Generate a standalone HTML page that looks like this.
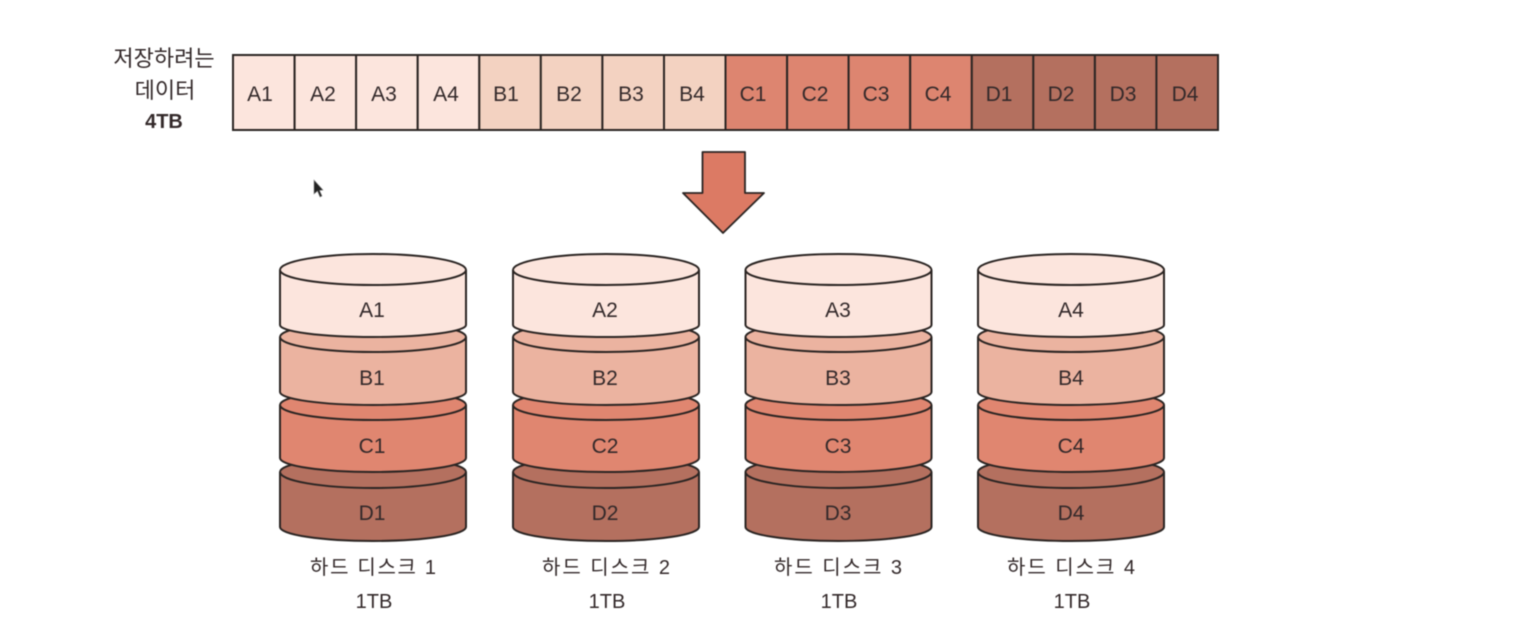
<!DOCTYPE html>
<html lang="ko">
<head>
<meta charset="utf-8">
<style>
html,body{margin:0;padding:0;background:#fff;}
body{width:1514px;height:642px;overflow:hidden;}
svg{display:block;filter:blur(0.4px);}
text{font-family:"Liberation Sans","Noto Sans CJK KR",sans-serif;fill:#33292a;text-anchor:middle;}
.c{font-size:21px;}
.k{font-size:20px;}
.h{font-size:22px;}
.cell{stroke:#2b2523;stroke-width:2;}
.d{stroke:#2b2523;stroke-width:2;stroke-linejoin:round;}
</style>
</head>
<body>
<svg width="1514" height="642" viewBox="0 0 1514 642" xmlns="http://www.w3.org/2000/svg">
<defs>
<g id="disk">
  <path class="d" fill="#b4705f" d="M280 472V527A93 14 0 0 0 466 527V472A93 15 0 0 0 280 472Z"/>
  <path class="d" fill="none" d="M280 472A93 16 0 0 0 466 472"/>
  <path class="d" fill="#e08670" d="M280 405V458A93 14 0 0 0 466 458V405A93 15 0 0 0 280 405Z"/>
  <path class="d" fill="none" d="M280 405A93 15 0 0 0 466 405"/>
  <path class="d" fill="#ebb3a0" d="M280 337V392A93 13 0 0 0 466 392V337A93 15 0 0 0 280 337Z"/>
  <path class="d" fill="none" d="M280 337A93 15 0 0 0 466 337"/>
  <path class="d" fill="#fce5dd" d="M280 270V325A93 12 0 0 0 466 325V270A93 16 0 0 0 280 270Z"/>
  <path class="d" fill="none" d="M280 270A93 15 0 0 0 466 270"/>
</g>
</defs>

<!-- data strip -->
<g class="cell">
<rect x="233" y="55" width="61.6" height="75" fill="#fce5dd"/>
<rect x="294.6" y="55" width="61.6" height="75" fill="#fce5dd"/>
<rect x="356.1" y="55" width="61.6" height="75" fill="#fce5dd"/>
<rect x="417.7" y="55" width="61.6" height="75" fill="#fce5dd"/>
<rect x="479.3" y="55" width="61.6" height="75" fill="#f3d2c1"/>
<rect x="540.8" y="55" width="61.6" height="75" fill="#f3d2c1"/>
<rect x="602.4" y="55" width="61.6" height="75" fill="#f3d2c1"/>
<rect x="664" y="55" width="61.6" height="75" fill="#f3d2c1"/>
<rect x="725.5" y="55" width="61.6" height="75" fill="#dd8570"/>
<rect x="787.1" y="55" width="61.6" height="75" fill="#dd8570"/>
<rect x="848.6" y="55" width="61.6" height="75" fill="#dd8570"/>
<rect x="910.2" y="55" width="61.6" height="75" fill="#dd8570"/>
<rect x="971.8" y="55" width="61.6" height="75" fill="#b4705f"/>
<rect x="1033.3" y="55" width="61.6" height="75" fill="#b4705f"/>
<rect x="1094.9" y="55" width="61.6" height="75" fill="#b4705f"/>
<rect x="1156.4" y="55" width="61.6" height="75" fill="#b4705f"/>
</g>
<g class="c">
<text x="260" y="101">A1</text>
<text x="323" y="101">A2</text>
<text x="384" y="101">A3</text>
<text x="446" y="101">A4</text>
<text x="506" y="101">B1</text>
<text x="569" y="101">B2</text>
<text x="631" y="101">B3</text>
<text x="692" y="101">B4</text>
<text x="753" y="101">C1</text>
<text x="815" y="101">C2</text>
<text x="876" y="101">C3</text>
<text x="938" y="101">C4</text>
<text x="999" y="101">D1</text>
<text x="1061" y="101">D2</text>
<text x="1123" y="101">D3</text>
<text x="1185" y="101">D4</text>
</g>

<!-- left label -->
<text class="h" x="164" y="66">저장하려는</text>
<text class="h" x="165" y="98">데이터</text>
<text x="164" y="128" style="font-size:20px;font-weight:bold">4TB</text>

<!-- cursor -->
<path d="M314 180V194L317.500 191L320 197L322 196L319.500 190.500L323 190Z" fill="#222" stroke="#888" stroke-width=".6"/>

<!-- arrow -->
<path d="M702.500 152H745V193H764L723 233L683 193H702.500Z" fill="#dc7a64" stroke="#2b2523" stroke-width="1.800" stroke-linejoin="round"/>

<!-- disks -->
<use href="#disk"/>
<use href="#disk" x="233"/>
<use href="#disk" x="465.500"/>
<use href="#disk" x="698"/>

<g class="c">
<text x="372" y="317">A1</text><text x="372" y="385">B1</text><text x="372" y="453">C1</text><text x="372" y="520">D1</text>
<text x="605" y="317">A2</text><text x="605" y="385">B2</text><text x="605" y="453">C2</text><text x="605" y="520">D2</text>
<text x="838" y="317">A3</text><text x="838" y="385">B3</text><text x="838" y="453">C3</text><text x="838" y="520">D3</text>
<text x="1071" y="317">A4</text><text x="1071" y="385">B4</text><text x="1071" y="453">C4</text><text x="1071" y="520">D4</text>
</g>

<g class="k">
<text x="373" y="574" textLength="126" lengthAdjust="spacing">하드 디스크 1</text>
<text x="606" y="574" textLength="128" lengthAdjust="spacing">하드 디스크 2</text>
<text x="838" y="574" textLength="128" lengthAdjust="spacing">하드 디스크 3</text>
<text x="1071" y="574" textLength="128" lengthAdjust="spacing">하드 디스크 4</text>
<text x="374" y="608">1TB</text>
<text x="607" y="608">1TB</text>
<text x="839" y="608">1TB</text>
<text x="1072" y="608">1TB</text>
</g>
</svg>
</body>
</html>
